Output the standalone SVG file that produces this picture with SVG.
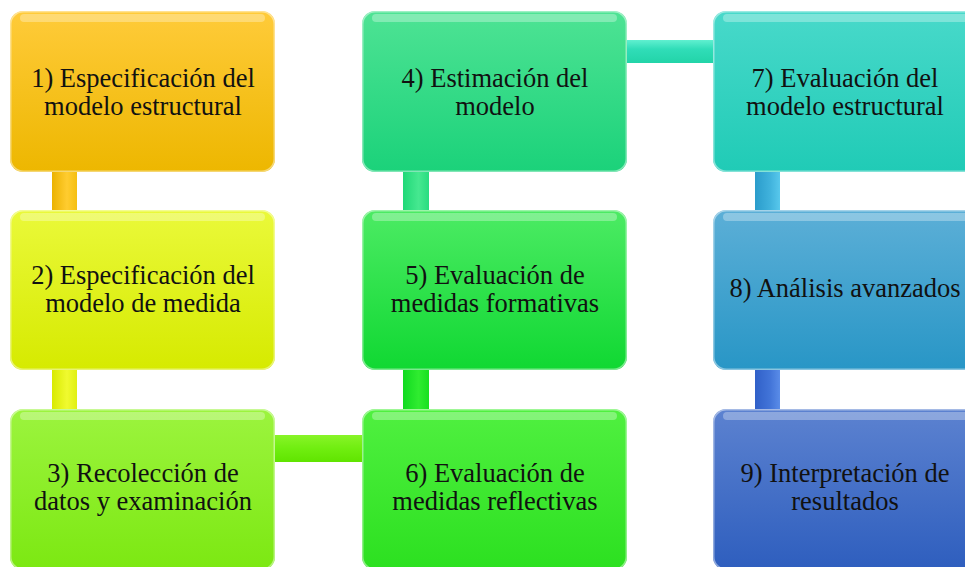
<svg xmlns="http://www.w3.org/2000/svg" width="965" height="567" viewBox="0 0 965 567">
<style>
text{font-family:'Liberation Serif','DejaVu Serif',serif;font-size:26.5px;fill:#111;text-anchor:middle}
.hl{fill:#fff;opacity:0.3}
.edge{fill:none;stroke:#fff;stroke-opacity:0.45;stroke-width:1.5}
</style>
<defs>
<linearGradient id="g1" x1="0" y1="0" x2="0" y2="1"><stop offset="0" stop-color="#FFCB3A"/><stop offset="1" stop-color="#EDB700"/></linearGradient>
<linearGradient id="g2" x1="0" y1="0" x2="0" y2="1"><stop offset="0" stop-color="#EAF93A"/><stop offset="1" stop-color="#D6EA00"/></linearGradient>
<linearGradient id="g3" x1="0" y1="0" x2="0" y2="1"><stop offset="0" stop-color="#9CF43E"/><stop offset="1" stop-color="#7CE812"/></linearGradient>
<linearGradient id="g4" x1="0" y1="0" x2="0" y2="1"><stop offset="0" stop-color="#4EE394"/><stop offset="1" stop-color="#1BD27A"/></linearGradient>
<linearGradient id="g5" x1="0" y1="0" x2="0" y2="1"><stop offset="0" stop-color="#4CEB64"/><stop offset="1" stop-color="#10D832"/></linearGradient>
<linearGradient id="g6" x1="0" y1="0" x2="0" y2="1"><stop offset="0" stop-color="#50F040"/><stop offset="1" stop-color="#2CE020"/></linearGradient>
<linearGradient id="g7" x1="0" y1="0" x2="0" y2="1"><stop offset="0" stop-color="#48D9CA"/><stop offset="1" stop-color="#20CBB6"/></linearGradient>
<linearGradient id="g8" x1="0" y1="0" x2="0" y2="1"><stop offset="0" stop-color="#5CAFD7"/><stop offset="1" stop-color="#2896C6"/></linearGradient>
<linearGradient id="g9" x1="0" y1="0" x2="0" y2="1"><stop offset="0" stop-color="#5C82D0"/><stop offset="1" stop-color="#2E5EBE"/></linearGradient>
<linearGradient id="cv1" x1="0" y1="0" x2="1" y2="0"><stop offset="0" stop-color="#EBB200"/><stop offset="0.6" stop-color="#FFCC30"/><stop offset="1" stop-color="#F5BF10"/></linearGradient>
<linearGradient id="cv2" x1="0" y1="0" x2="1" y2="0"><stop offset="0" stop-color="#D8EA00"/><stop offset="0.6" stop-color="#F0FA30"/><stop offset="1" stop-color="#E0F010"/></linearGradient>
<linearGradient id="ch3" x1="0" y1="0" x2="0" y2="1"><stop offset="0" stop-color="#88F428"/><stop offset="0.5" stop-color="#70EE10"/><stop offset="1" stop-color="#60E400"/></linearGradient>
<linearGradient id="cv6" x1="0" y1="0" x2="1" y2="0"><stop offset="0" stop-color="#10DA20"/><stop offset="0.6" stop-color="#30EC30"/><stop offset="1" stop-color="#18E020"/></linearGradient>
<linearGradient id="cv5" x1="0" y1="0" x2="1" y2="0"><stop offset="0" stop-color="#20D878"/><stop offset="0.6" stop-color="#46E890"/><stop offset="1" stop-color="#28DC80"/></linearGradient>
<linearGradient id="ch4" x1="0" y1="0" x2="0" y2="1"><stop offset="0" stop-color="#60F0D0"/><stop offset="0.4" stop-color="#30DDB8"/><stop offset="1" stop-color="#22D4A8"/></linearGradient>
<linearGradient id="cv7" x1="0" y1="0" x2="1" y2="0"><stop offset="0" stop-color="#2A9CCB"/><stop offset="0.6" stop-color="#40B2DC"/><stop offset="1" stop-color="#58C8EC"/></linearGradient>
<linearGradient id="cv8" x1="0" y1="0" x2="1" y2="0"><stop offset="0" stop-color="#3060C8"/><stop offset="0.6" stop-color="#4274D8"/><stop offset="1" stop-color="#5A8CE8"/></linearGradient>
</defs>
<g id="connectors">
<rect x="52" y="168" width="25" height="46" fill="url(#cv1)"/>
<rect x="52" y="366" width="25" height="47" fill="url(#cv2)"/>
<rect x="271" y="435" width="95" height="27" fill="url(#ch3)"/>
<rect x="403" y="366" width="26" height="47" fill="url(#cv6)"/>
<rect x="403" y="168" width="26" height="46" fill="url(#cv5)"/>
<rect x="622" y="40" width="95" height="23" fill="url(#ch4)"/>
<rect x="755" y="168" width="25" height="46" fill="url(#cv7)"/>
<rect x="755" y="366" width="25" height="47" fill="url(#cv8)"/>
</g>
<g id="n1">
<rect x="10" y="11" width="265" height="161" rx="13" fill="url(#g1)"/>
<rect x="20" y="14" width="245" height="8" rx="4" class="hl"/>
<rect x="10.75" y="11.75" width="263.5" height="159.5" rx="12.5" class="edge"/>
<text x="143" y="87">1) Especificación del</text>
<text x="143" y="115">modelo estructural</text>
</g>
<g id="n2">
<rect x="10" y="210" width="265" height="160" rx="13" fill="url(#g2)"/>
<rect x="20" y="213" width="245" height="8" rx="4" class="hl"/>
<rect x="10.75" y="210.75" width="263.5" height="158.5" rx="12.5" class="edge"/>
<text x="143" y="284">2) Especificación del</text>
<text x="143" y="312">modelo de medida</text>
</g>
<g id="n3">
<rect x="10" y="409" width="265" height="161" rx="13" fill="url(#g3)"/>
<rect x="20" y="412" width="245" height="8" rx="4" class="hl"/>
<rect x="10.75" y="409.75" width="263.5" height="159.5" rx="12.5" class="edge"/>
<text x="143" y="482">3) Recolección de</text>
<text x="143" y="510">datos y examinación</text>
</g>
<g id="n4">
<rect x="362" y="11" width="265" height="161" rx="13" fill="url(#g4)"/>
<rect x="372" y="14" width="245" height="8" rx="4" class="hl"/>
<rect x="362.75" y="11.75" width="263.5" height="159.5" rx="12.5" class="edge"/>
<text x="495" y="87">4) Estimación del</text>
<text x="495" y="115">modelo</text>
</g>
<g id="n5">
<rect x="362" y="210" width="265" height="160" rx="13" fill="url(#g5)"/>
<rect x="372" y="213" width="245" height="8" rx="4" class="hl"/>
<rect x="362.75" y="210.75" width="263.5" height="158.5" rx="12.5" class="edge"/>
<text x="495" y="284">5) Evaluación de</text>
<text x="495" y="312">medidas formativas</text>
</g>
<g id="n6">
<rect x="362" y="409" width="265" height="161" rx="13" fill="url(#g6)"/>
<rect x="372" y="412" width="245" height="8" rx="4" class="hl"/>
<rect x="362.75" y="409.75" width="263.5" height="159.5" rx="12.5" class="edge"/>
<text x="495" y="482">6) Evaluación de</text>
<text x="495" y="510">medidas reflectivas</text>
</g>
<g id="n7">
<rect x="713" y="11" width="265" height="161" rx="13" fill="url(#g7)"/>
<rect x="723" y="14" width="245" height="8" rx="4" class="hl"/>
<rect x="713.75" y="11.75" width="263.5" height="159.5" rx="12.5" class="edge"/>
<text x="845" y="87">7) Evaluación del</text>
<text x="845" y="115">modelo estructural</text>
</g>
<g id="n8">
<rect x="713" y="210" width="265" height="160" rx="13" fill="url(#g8)"/>
<rect x="723" y="213" width="245" height="8" rx="4" class="hl"/>
<rect x="713.75" y="210.75" width="263.5" height="158.5" rx="12.5" class="edge"/>
<text x="845" y="297">8) Análisis avanzados</text>
</g>
<g id="n9">
<rect x="713" y="409" width="265" height="161" rx="13" fill="url(#g9)"/>
<rect x="723" y="412" width="245" height="8" rx="4" class="hl"/>
<rect x="713.75" y="409.75" width="263.5" height="159.5" rx="12.5" class="edge"/>
<text x="845" y="482">9) Interpretación de</text>
<text x="845" y="510">resultados</text>
</g>
</svg>
